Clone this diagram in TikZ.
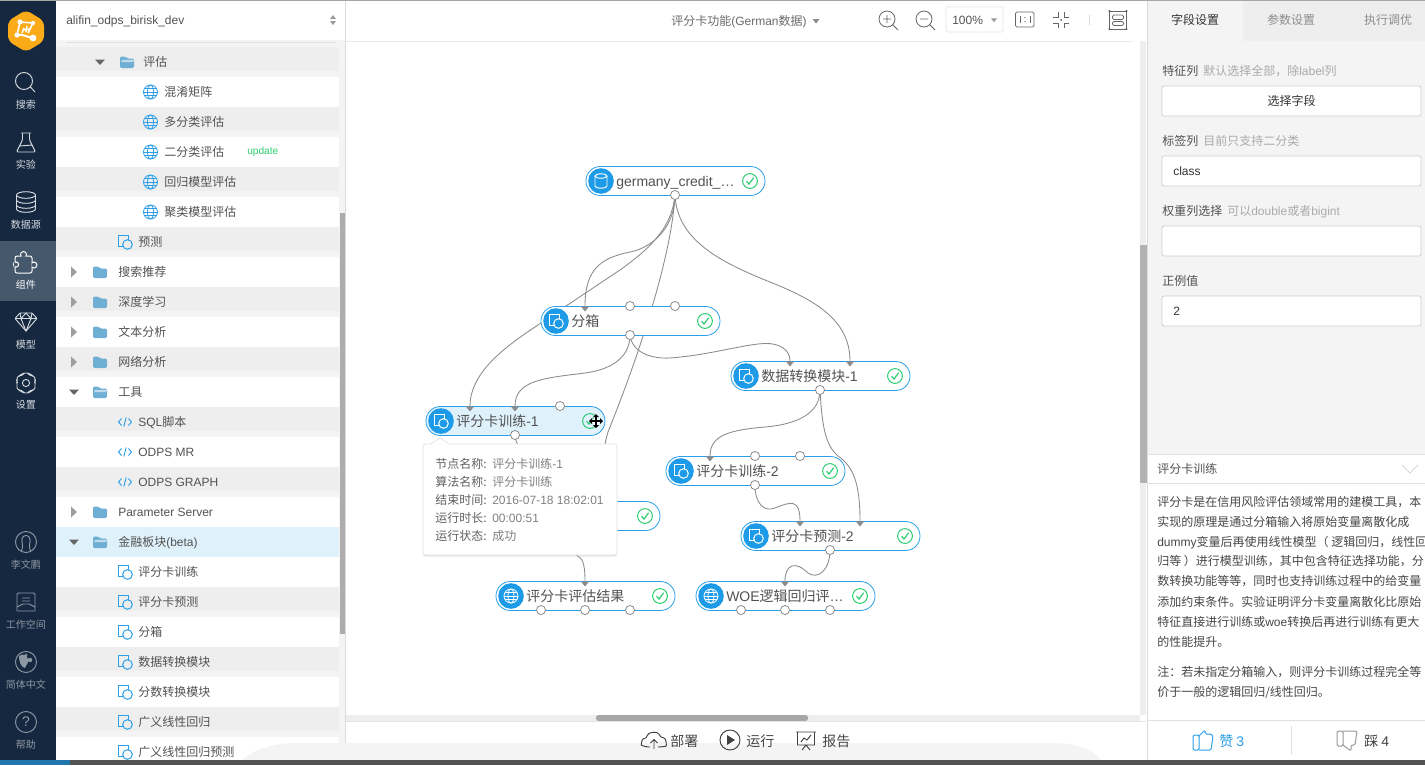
\documentclass[tikz,border=0pt]{standalone}
\usepackage{fontspec}
\setmainfont{Noto Sans CJK SC}
\newfontfamily\latf{Liberation Sans}
\newcommand\LT[1]{{\latf #1}}
\usetikzlibrary{shadows}
\pgfdeclarelayer{bglayer}
\pgfdeclarelayer{edgelayer}
\pgfsetlayers{bglayer,edgelayer,main}
\definecolor{side}{HTML}{16283F}
\definecolor{sideact}{HTML}{46586B}
\definecolor{sideicon}{HTML}{D5DAE0}
\definecolor{sidedim}{HTML}{8D98A5}
\definecolor{rowg}{HTML}{EEEEEE}
\definecolor{panel}{HTML}{F4F4F4}
\definecolor{blu}{HTML}{2B9FE8}
\definecolor{bluf}{HTML}{1E9BE8}
\definecolor{sel}{HTML}{DFF1FB}
\definecolor{folder}{HTML}{70AFD4}
\definecolor{grn}{HTML}{2ECC71}
\definecolor{edgec}{HTML}{8C8C8C}
\definecolor{txt}{HTML}{525252}
\definecolor{hint}{HTML}{AAAAAA}
\definecolor{bd}{HTML}{CFCFCF}
\definecolor{logoc}{HTML}{FBAB18}
\def\fa{\fontsize{9pt}{11pt}\selectfont}
\def\fb{\fontsize{10.5pt}{12pt}\selectfont}
\def\fc{\fontsize{7.5pt}{9pt}\selectfont}
\tikzset{
  lbl/.style={inner sep=0pt,font=\fa,text=txt,text height=7pt,text depth=1pt},
  treetxt/.style={lbl,anchor=west},
  sidetxt/.style={inner sep=0pt,font=\fc,text=sideicon,text height=7pt,text depth=.3pt},
  sidedimtxt/.style={sidetxt,text=sidedim},
  hinttxt/.style={treetxt,text=hint},
  infotxt/.style={treetxt,text=black!72},
  tiptxt/.style={treetxt,text=black!62},
  tipval/.style={treetxt,text=black!50},
  pilltxt/.style={inner sep=0pt,anchor=west,font=\fb,text=txt,text height=9pt,text depth=.7pt},
  toolbtxt/.style={treetxt,font=\fb,text height=9pt,text depth=.7pt,text=black!72},
  pill/.style={draw=blu,line width=.6pt,rounded corners=10.8pt,minimum width=134.25pt,minimum height=21.75pt,inner sep=0pt},
  port/.style={circle,draw=edgec,fill=white,line width=.6pt,minimum size=6.8pt,inner sep=0pt},
  wire/.style={draw=edgec,line width=.65pt},
  formbox/.style={draw=bd,fill=white,line width=.6pt,rounded corners=1.5pt,minimum width=194.25pt,minimum height=22.5pt,inner sep=0pt},
  siconl/.style={draw=sideicon,line width=.7pt},
  sicond/.style={draw=sidedim,line width=.7pt},
  ticon/.style={draw=black!60,line width=.6pt},
}
% icons
\newcommand\cardicon[4]{\begin{scope}[shift={(#1,#2)}]
  \draw[draw=#3,line width=.75pt] (-6.5,-6.5) rectangle (3.5,4);
  \draw[draw=#3,fill=#4,line width=.75pt] (2.5,2.5) circle (4.8);
\end{scope}}
\newcommand\globeicon[4]{\begin{scope}[shift={(#1,#2)},draw=#3,line width=.6pt]
  \draw[fill=#4] (0,0) circle (7);
  \draw (0,0) ellipse (3 and 7);
  \draw (-7,0) -- (7,0) (-6,-3.5) -- (6,-3.5) (-6,3.5) -- (6,3.5);
\end{scope}}
\newcommand\dbicon[3]{\begin{scope}[shift={(#1,#2)},draw=#3,line width=.7pt]
  \draw (-6,-5) -- (-6,5) arc[start angle=180,end angle=360,x radius=6,y radius=-2.2] -- (6,-5);
  \draw (0,-5) ellipse (6 and 2.2);
\end{scope}}
\newcommand\codeicon[2]{\begin{scope}[shift={(#1,#2)},draw=blu,line width=.7pt]
  \draw (-3.5,-3.5) -- (-6.5,0) -- (-3.5,3.5) (3.5,-3.5) -- (6.5,0) -- (3.5,3.5) (1.2,-4.5) -- (-1.2,4.5);
\end{scope}}
\newcommand\foldc[2]{\fill[folder,rounded corners=1pt,shift={(#1,#2)}] (-7,-5.5) -- (-1.5,-5.5) -- (0,-3.5) -- (7,-3.5) -- (7,6) -- (-7,6) -- cycle;}
\newcommand\foldo[2]{\begin{scope}[shift={(#1,#2)}]
  \fill[folder,rounded corners=1pt] (-7,-5.5) -- (-1.5,-5.5) -- (0,-3.5) -- (7,-3.5) -- (7,6) -- (-7,6) -- cycle;
  \fill[white!55!folder,rounded corners=.6pt] (-5,-2.2) -- (7.5,-2.2) -- (6,.0) -- (-6,.0) -- cycle;
\end{scope}}
\newcommand\triR[2]{\fill[black!38,shift={(#1,#2)}] (-3,-5.5) -- (3,0) -- (-3,5.5) -- cycle;}
\newcommand\triD[2]{\fill[black!60,shift={(#1,#2)}] (-5,-2.5) -- (5,-2.5) -- (0,3) -- cycle;}
\newcommand\tipdown[1]{\fill[edgec,shift={(#1)}] (-4.2,.4) -- (4.2,.4) -- (0,5.4) -- cycle;}
% pipeline node: name, left x, center y, pill fill, icon code, label
\newcommand\pipe[6]{
  \node[pill,fill=#4] (#1) at (#2+89.5,#3) {};
  \fill[bluf] (#2+15,#3) circle (12.8);
  #5
  \node[pilltxt] (#1-t) at (#2+30,#3) {#6};
  \draw[grn,fill=#4,line width=.75pt] (#2+164,#3) circle (7.4);
  \draw[grn,line width=.9pt] (#2+160.6,#3+.2) -- (#2+163,#3+3) -- (#2+167.6,#3-3.2);
}
\begin{document}
\begin{tikzpicture}[x=.75pt,y=-.75pt]
\useasboundingbox (0,0) rectangle (1425,765);
\begin{pgfonlayer}{bglayer}
\fill[white] (0,0) rectangle (1425,765);
% tree panel
\fill[panel] (56,40) rectangle (345,765);
\fill[white] (56,0) rectangle (345,40);
\draw[black!12,line width=.5pt] (66,42) -- (335,42);
\foreach \y in {92,152,212,272,332,392,452,512,572,632,692,752}
  \fill[white] (56,\y-15) rectangle (339,\y+15);
\foreach \y in {62,122,182,242,302,362,422,482,602,662,722}
  \fill[rowg] (56,\y-15) rectangle (339,\y+9);
\fill[sel] (56,527) rectangle (339,557);
\fill[black!32] (339.5,213) rectangle (345,634);
\fill[black!14] (345,0) rectangle (346,760);
% sidebar
\fill[side] (0,0) rectangle (56,765);
\fill[sideact] (0,241) rectangle (56,301);
% canvas chrome
\draw[black!8,line width=.75pt] (346,41) -- (1133,41);
\fill[rowg] (1140,41) rectangle (1146,715);
\fill[black!30] (1140,245) rectangle (1147,483);
\fill[rowg] (346,715) rectangle (1140,721);
\fill[black!35,rounded corners=2pt] (596,715) rectangle (808,721);
\draw[black!10,line width=.75pt] (346,721) -- (1146,721);
% right panel
\fill[panel] (1147,0) rectangle (1425,454);
\fill[rowg] (1243,0) rectangle (1425,41);
\fill[white] (1147,454) rectangle (1425,765);
\draw[black!14,line width=.75pt] (1147,0) -- (1147,765);
\draw[black!12,line width=.75pt] (1147,454) -- (1425,454) (1147,483) -- (1425,483) (1147,720) -- (1425,720);
\draw[black!12,line width=.75pt] (1291,726) -- (1291,755);
% dock reflection and bottom strip
\fill[panel] (240,762) .. controls (255,748) and (275,743) .. (300,743) -- (1050,743) .. controls (1080,743) and (1095,750) .. (1102,762) -- cycle;
\fill[black!68] (56,760) rectangle (1425,765);
\fill[blu!75!black] (0,760) rectangle (70,765);
\draw[black!35,line width=.75pt] (0,.4) -- (1425,.4);
\end{pgfonlayer}

% ---------- sidebar icons
\begin{scope}[shift={(26,31)}]
  \fill[logoc,rounded corners=4pt] (0,-21) -- (18,-10) -- (18,10) -- (0,21) -- (-18,10) -- (-18,-10) -- cycle;
  \draw[white,line width=1.2pt] (-6,-9) -- (7,-8) -- (2,2) (-6,-9) -- (-9,4);
  \draw[white,line width=1.5pt] (-9,4) .. controls (-3,3) and (1,6) .. (7,7);
  \fill[white] (-6,-9) circle (2.6) (7,-8) circle (2.2) (7,7) circle (3.4) (-9,4) circle (2.6);
  \draw[white,line width=1.1pt] (-4,2) -- (-2,-3) (1,-5) -- (0,1) (-3,-1) -- (3,-2);
\end{scope}
\draw[siconl] (24,81) circle (8.5) (30.5,87) -- (35,92);
\begin{scope}[shift={(26,143)}]
  \draw[siconl,rounded corners=1pt] (-3.5,-10) -- (-3.5,-3) -- (-9.5,9) -- (9.5,9) -- (3.5,-3) -- (3.5,-10);
  \draw[siconl] (-5,-10) -- (5,-10) (-6.5,3) -- (6.5,2);
\end{scope}
\begin{scope}[shift={(26,202)}]
  \draw[siconl] (-9.5,-7) -- (-9.5,7) arc[start angle=180,end angle=360,x radius=9.5,y radius=-3.3] -- (9.5,-7);
  \draw[siconl] (0,-7) ellipse (9.5 and 3.3);
  \draw[siconl] (-9.5,-2) arc[start angle=180,end angle=360,x radius=9.5,y radius=-3.3];
  \draw[siconl] (-9.5,3) arc[start angle=180,end angle=360,x radius=9.5,y radius=-3.3];
\end{scope}
\draw[draw=white,line width=.75pt,rounded corners=1.5pt] (15,256) rectangle (32,273);
\draw[draw=white,fill=sideact,line width=.75pt] (23.5,254.5) circle (3) (34,265) circle (3) (16,264.5) circle (2.6);
\fill[sideact] (21,256.3) rectangle (26,258) (31.6,262.6) rectangle (30,267.4) (14,262.4) rectangle (14.9,266.6);
\begin{scope}[shift={(26,321)}]
  \draw[siconl,rounded corners=.6pt] (-6,-8) -- (6,-8) -- (11,-2.5) -- (0,10) -- (-11,-2.5) -- cycle;
  \draw[siconl] (-11,-2.5) -- (11,-2.5) (-5,-2.5) -- (0,10) -- (5,-2.5) (-6,-8) -- (-5,-2.5) -- (0,-8) -- (5,-2.5) -- (6,-8);
\end{scope}
\begin{scope}[shift={(26,383)}]
  \draw[siconl,rounded corners=1.5pt] (-3,-10) -- (3,-10) -- (4,-7.5) -- (7,-8) -- (10,-3) -- (8,-.5) -- (10,3) -- (7,8) -- (4,7.5) -- (3,10) -- (-3,10) -- (-4,7.5) -- (-7,8) -- (-10,3) -- (-8,-.5) -- (-10,-3) -- (-7,-8) -- (-4,-7.5) -- cycle;
  \draw[siconl] (0,0) circle (3.6);
\end{scope}
\draw[sicond] (26,542) circle (10.5);
\draw[sicond,rounded corners=2pt] (21.5,551) -- (23,546) -- (21.5,541) -- (23,535.5) -- (29,535.5) -- (30.5,541) -- (29,546) -- (30.5,551);
\begin{scope}[shift={(26,602)}]
  \draw[sicond,rounded corners=1pt] (-9,9) -- (-9,-9) -- (9,-9) -- (9,9);
  \draw[sicond] (-9,5) -- (-3,2) -- (3,2) -- (9,5) (-9,9) -- (9,9) (-4,-4) -- (4,-4) (-4,-1) -- (4,-1);
\end{scope}
\draw[sicond] (26,662) circle (10.5);
\fill[sidedim] (19,656) .. controls (23,653) and (27,655) .. (28,659) .. controls (29,664) and (26,664) .. (25,668) .. controls (21,667) and (19,662) .. (19,656) -- cycle;
\fill[sidedim] (30,660) circle (2.2) (26,655) circle (1.5);
\draw[sicond] (26,722) circle (10.5);
\node[inner sep=0pt,font=\fontsize{10.5pt}{12pt}\selectfont,text=sidedim] (helpq) at (26,722) {\LT{?}};
\foreach \y/\t/\n in {104/搜索/s1,164/实验/s2,224/数据源/s3,344/模型/s5,404/设置/s6}
  \node[sidetxt] (\n) at (26,\y) {\t};
\node[sidetxt,text=white] (s4) at (26,284) {组件};
\foreach \y/\t/\n in {564/李文鹏/s7,624/工作空间/s8,684/简体中文/s9,744/帮助/s10}
  \node[sidedimtxt] (\n) at (26,\y) {\t};

% ---------- tree
\node[treetxt] (proj) at (66,20.5) {\LT{alifin\_odps\_birisk\_dev}};
\fill[black!40,shift={(333,20)}] (-3,-1) -- (3,-1) -- (0,-5) -- cycle (-3,1) -- (3,1) -- (0,5) -- cycle;
\triD{100}{62}\foldo{127}{62}
\node[treetxt] (r62) at (143,62) {评估};
\foreach \y/\t in {92/混淆矩阵,122/多分类评估,152/二分类评估,182/回归模型评估,212/聚类模型评估}{
  \globeicon{150.5}{\y}{blu}{none}
  \node[treetxt] (r\y) at (164,\y) {\t};
}
\node[inner sep=0pt,anchor=west,font=\fontsize{7.6pt}{9pt}\selectfont\latf,text=grn] (upd) at (247,152) {update};
\cardicon{125}{242}{blu}{rowg}
\node[treetxt] (r242) at (138,242) {预测};
\foreach \y/\t in {272/搜索推荐,302/深度学习,332/文本分析,362/网络分析}{
  \triR{74}{\y}\foldc{100}{\y}
  \node[treetxt] (r\y) at (118,\y) {\t};
}
\triD{74}{392}\foldo{100}{392}
\node[treetxt] (r392) at (118,392) {工具};
\foreach \y/\t in {422/\LT{SQL}脚本,452/\LT{ODPS MR},482/\LT{ODPS GRAPH}}{
  \codeicon{125}{\y}
  \node[treetxt] (r\y) at (138,\y) {\t};
}
\triR{74}{512}\foldc{100}{512}
\node[treetxt] (r512) at (118,512) {\LT{Parameter Server}};
\triD{74}{542}\foldo{100}{542}
\node[treetxt] (r542) at (118,542) {金融板块\LT{(beta)}};
\foreach \y/\t/\f in {572/评分卡训练/white,602/评分卡预测/rowg,632/分箱/white,662/数据转换模块/rowg,692/分数转换模块/white,722/广义线性回归/rowg,752/广义线性回归预测/white}{
  \cardicon{125}{\y}{blu}{\f}
  \node[treetxt] (r\y) at (138,\y) {\t};
}

% ---------- top toolbar
\node[treetxt,text=black!58] (title) at (671,21) {评分卡功能\LT{(German}数据\LT{)}};
\fill[black!45,shift={(816,21)}] (-3.5,-2) -- (3.5,-2) -- (0,2.5) -- cycle;
\draw[ticon] (887,19) circle (8) (893,25) -- (898,30) (883,19) -- (891,19) (887,15) -- (887,23);
\draw[ticon] (924,19) circle (8) (930,25) -- (935,30) (920,19) -- (928,19);
\node[draw=black!10,line width=.6pt,rounded corners=1pt,minimum width=42.75pt,minimum height=18.75pt,inner sep=0pt] (zoombox) at (974.5,19.5) {};
\node[treetxt,text=black!68] (zoomtxt) at (952,20) {\LT{100\%}};
\fill[black!40,shift={(994,20)}] (-3,-1.7) -- (3,-1.7) -- (0,2.2) -- cycle;
\draw[ticon,rounded corners=1pt] (1015.5,12) rectangle (1034,27);
\draw[ticon] (1020,16) -- (1020,23) (1030,16) -- (1030,23);
\fill[black!65] (1025,17.5) circle (.7) (1025,21.5) circle (.7);
\begin{scope}[shift={(1061,20)}]
  \draw[ticon] (-8,-3) -- (-3,-3) -- (-3,-8) (8,-3) -- (3,-3) -- (3,-8) (-8,3) -- (-3,3) -- (-3,8) (8,3) -- (3,3) -- (3,8);
  \fill[black!65] (0,0) circle (1);
\end{scope}
\draw[black!14,line width=.75pt] (1089,15) -- (1089,25);
\begin{scope}[shift={(1118,20)}]
  \draw[ticon] (-8.5,-9) rectangle (8.5,9);
  \draw[ticon,rounded corners=1pt] (-5.5,-5) rectangle (5.5,-.5) (-5.5,1.5) rectangle (5.5,5.5);
  \fill[black!65] (-8.5,-9) circle (1.2) (8.5,-9) circle (1.2) (-8.5,9) circle (1.2) (8.5,9) circle (1.2);
\end{scope}

% ---------- bottom toolbar
\begin{scope}[shift={(654,740)}]
  \draw[draw=black!75,line width=.7pt,rounded corners=3pt] (-4,7) -- (-9,7) .. controls (-13,5) and (-12,-1) .. (-7,-1) .. controls (-6,-8) and (4,-9) .. (6,-2) .. controls (12,-2) and (13,6) .. (8,7) -- (4,7);
  \draw[draw=black!75,line width=.7pt] (0,9) -- (0,0) (-3.5,3) -- (0,-.5) -- (3.5,3);
\end{scope}
\node[toolbtxt] (b1) at (670,741) {部署};
\draw[draw=black!75,line width=.7pt] (730,740) circle (10);
\fill[black!75] (727,735) -- (735,740) -- (727,745) -- cycle;
\node[toolbtxt] (b2) at (746,741) {运行};
\begin{scope}[shift={(806,740)}]
  \draw[draw=black!75,line width=.7pt] (-10,-8) -- (10,-8) (-8.5,-8) -- (-8.5,5) -- (8.5,5) -- (8.5,-8) (-4,10) -- (0,5) -- (4,10);
  \draw[draw=black!75,line width=.7pt] (-5,2) -- (-2,-2) -- (1,0) -- (5,-5);
\end{scope}
\node[toolbtxt] (b3) at (822,741) {报告};
\draw[blu,line width=.75pt,rounded corners=1pt] (1193,735) rectangle (1199,750);
\draw[blu,line width=.75pt,rounded corners=1pt] (1199,736) -- (1205,730) -- (1205,734) -- (1211,734) -- (1213,736) -- (1211,750) -- (1199,750);
\node[toolbtxt,text=blu] (like) at (1219,741) {赞 \LT{3}};
\draw[black!40,line width=.75pt,rounded corners=1pt] (1337,731) rectangle (1343,746);
\draw[black!40,line width=.75pt,rounded corners=1pt] (1343,731) -- (1357,731) -- (1355,745) -- (1351,745) -- (1351,751) -- (1343,745);
\node[toolbtxt,text=black!75] (dislike) at (1364,741) {踩 \LT{4}};

% ---------- right panel
\node[lbl,text=black!80] (tab1) at (1195,20.5) {字段设置};
\node[lbl,text=black!45] (tab2) at (1291,20.5) {参数设置};
\node[lbl,text=black!45] (tab3) at (1388,20.5) {执行调优};
\node[treetxt] (f1) at (1162,71) {特征列};
\node[hinttxt] (h1) at (1203,71) {默认选择全部，除\LT{label}列};
\node[formbox] (b-f1) at (1291.5,101) {};
\node[lbl,text=black!80] (b-f1t) at (b-f1) {选择字段};
\node[treetxt] (f2) at (1162,141) {标签列};
\node[hinttxt] (h2) at (1203,141) {目前只支持二分类};
\node[formbox] (b-f2) at (1291.5,171) {};
\node[treetxt,text=black!80] (b-f2t) at (1173,171) {\LT{class}};
\node[treetxt] (f3) at (1162,211) {权重列选择};
\node[hinttxt] (h3) at (1227,211) {可以\LT{double}或者\LT{bigint}};
\node[formbox] (b-f3) at (1291.5,241) {};
\node[treetxt] (f4) at (1162,281) {正例值};
\node[formbox] (b-f4) at (1291.5,311) {};
\node[treetxt,text=black!80] (b-f4t) at (1173,311) {\LT{2}};
\node[treetxt] (infot) at (1157,469) {评分卡训练};
\draw[black!15,line width=.7pt] (1402,465) -- (1410,473) -- (1418,465);
\foreach \y/\t in {
 502/评分卡是在信用风险评估领域常用的建模工具，本,
 522/实现的原理是通过分箱输入将原始变量离散化成,
 542/\LT{dummy}变量后再使用线性模型（ 逻辑回归，线性回,
 561/归等 ）进行模型训练，其中包含特征选择功能，分,
 581/数转换功能等等，同时也支持训练过程中的给变量,
 602/添加约束条件。实验证明评分卡变量离散化比原始,
 622/特征直接进行训练或\LT{woe}转换后再进行训练有更大,
 642/的性能提升。,
 672/注：若未指定分箱输入，则评分卡训练过程完全等}
  \node[infotxt] (p\y) at (1157,\y) {\t};
\node[infotxt] (p692) at (1157,692) {价于一般的逻辑回归{/}线性回归。};

% ---------- pipeline nodes
\pipe{src}{586}{181}{white}{\dbicon{601}{181}{white}}{\LT{germany\_credit\_…}}
\pipe{fx}{541}{321}{white}{\cardicon{556}{321}{white}{bluf}}{分箱}
\pipe{dt}{731}{376}{white}{\cardicon{746}{376}{white}{bluf}}{数据转换模块\LT{-1}}
\pipe{tr1}{426}{421}{sel}{\cardicon{441}{421}{white}{bluf}}{评分卡训练\LT{-1}}
\pipe{tr2}{666}{471}{white}{\cardicon{681}{471}{white}{bluf}}{评分卡训练\LT{-2}}
\node[pill,fill=white] (pr1) at (570.5,516) {};
\draw[grn,fill=white,line width=.75pt] (645,516) circle (7.4);
\draw[grn,line width=.9pt] (641.6,516.2) -- (644,519) -- (648.6,512.8);
\pipe{pr2}{741}{536}{white}{\cardicon{756}{536}{white}{bluf}}{评分卡预测\LT{-2}}
\pipe{res}{496}{596}{white}{\globeicon{511}{596}{white}{none}}{评分卡评估结果}
\pipe{woe}{696}{596}{white}{\globeicon{711}{596}{white}{none}}{\LT{WOE}逻辑回归评\LT{…}}

% ports
\foreach \n/\x/\y in {src-o/675/195, fx-a/630/306, fx-b/675/306, fx-o/630/335, dt-o/820/390, tr1-a/560/406, tr1-o/515/435, tr2-a/755/456, tr2-b/800/456, tr2-o/755/485, pr2-o/830/550, res-a/541/610, res-b/585/610, res-c/630/610, woe-a/741/610, woe-b/785/610, woe-c/830/610}
  \node[port] (\n) at (\x,\y) {};
% input coordinates
\foreach \n/\x/\y in {fx-i/585/306, dt-i1/790/361, dt-i2/850/361, tr1-i1/470/406, tr1-i2/515/406, tr2-i/710/456, pr2-i1/800/521, pr2-i2/860/521, res-i/585/581, woe-i/785/581, pr1-i1/570/501, pr1-i2/600/501, pr1-o/570/530}
  \coordinate (\n) at (\x,\y);

% connectors
\begin{pgfonlayer}{edgelayer}
\path[wire] (src-o.center) .. controls (675,225) and (655,247) .. (630,252) .. controls (600,258) and (585,270) .. (fx-i);
\path[wire] (src-o.center) .. controls (672,225) and (655,245) .. (620,270) .. controls (590,290) and (560,310) .. (535,327) .. controls (500,350) and (470,375) .. (tr1-i1);
\path[wire] (src-o.center) .. controls (672,250) and (645,340) .. (608,432) .. controls (604,445) and (600,470) .. (pr1-i2);
\path[wire] (src-o.center) .. controls (677,240) and (720,262) .. (770,282) .. controls (815,300) and (850,320) .. (dt-i2);
\path[wire] (fx-o.center) .. controls (632,352) and (650,359) .. (670,358) .. controls (710,355) and (745,344) .. (765,343.5) .. controls (780,343) and (790,350) .. (dt-i1);
\path[wire] (fx-o.center) .. controls (630,355) and (615,369) .. (585,373) .. controls (545,378) and (515,380) .. (tr1-i2);
\path[wire] (dt-o.center) .. controls (820,412) and (800,424) .. (765,427) .. controls (730,430) and (710,435) .. (tr2-i);
\path[wire] (dt-o.center) .. controls (822,425) and (825,445) .. (838,456) .. controls (852,466) and (860,480) .. (pr2-i2);
\path[wire] (tr2-o.center) .. controls (755,505) and (765,512) .. (775,508) .. controls (790,502) and (800,498) .. (pr2-i1);
\path[wire] (pr2-o.center) .. controls (830,570) and (818,580) .. (808,573) .. controls (795,560) and (785,565) .. (woe-i);
\path[wire] (tr1-o.center) .. controls (515,460) and (570,470) .. (pr1-i1);
\path[wire] (pr1-o) .. controls (570,572) and (585,540) .. (res-i);
\end{pgfonlayer}
\tipdown{fx-i}\tipdown{dt-i1}\tipdown{dt-i2}\tipdown{tr1-i1}\tipdown{tr1-i2}\tipdown{tr2-i}\tipdown{pr2-i1}\tipdown{pr2-i2}\tipdown{res-i}\tipdown{woe-i}

% ---------- tooltip
\node[draw=black!12,fill=white,line width=.5pt,rounded corners=2pt,minimum width=145.5pt,minimum height=83.25pt,inner sep=0pt,drop shadow={opacity=.18,shadow xshift=0pt,shadow yshift=-1.2pt}] (tip) at (520,499.5) {};
\fill[white] (431,444.6) -- (440,437.5) -- (449,444.6) -- cycle;
\draw[black!12,line width=.5pt] (431,444) -- (440,437.5) -- (449,444);
\foreach \y/\a/\b in {464/节点名称:/评分卡训练\LT{-1},482/算法名称:/评分卡训练,500/结束时间:/\LT{2016-07-18 18:02:01},518/运行时长:/\LT{00:00:51},536/运行状态:/成功}{
  \node[tiptxt] (ta\y) at (435,\y) {\a};
  \node[tipval] (tb\y) at (492,\y) {\b};
}
% move cursor
\begin{scope}[shift={(596,421)}]
  \draw[white,line width=2.6pt] (-5,0) -- (5,0) (0,-5) -- (0,5);
  \draw[black,line width=1.1pt] (-5,0) -- (5,0) (0,-5) -- (0,5);
  \fill[black] (-7,0) -- (-4,-3) -- (-4,3) -- cycle (7,0) -- (4,-3) -- (4,3) -- cycle (0,-7) -- (-3,-4) -- (3,-4) -- cycle (0,7) -- (-3,4) -- (3,4) -- cycle;
\end{scope}
\end{tikzpicture}
\end{document}
